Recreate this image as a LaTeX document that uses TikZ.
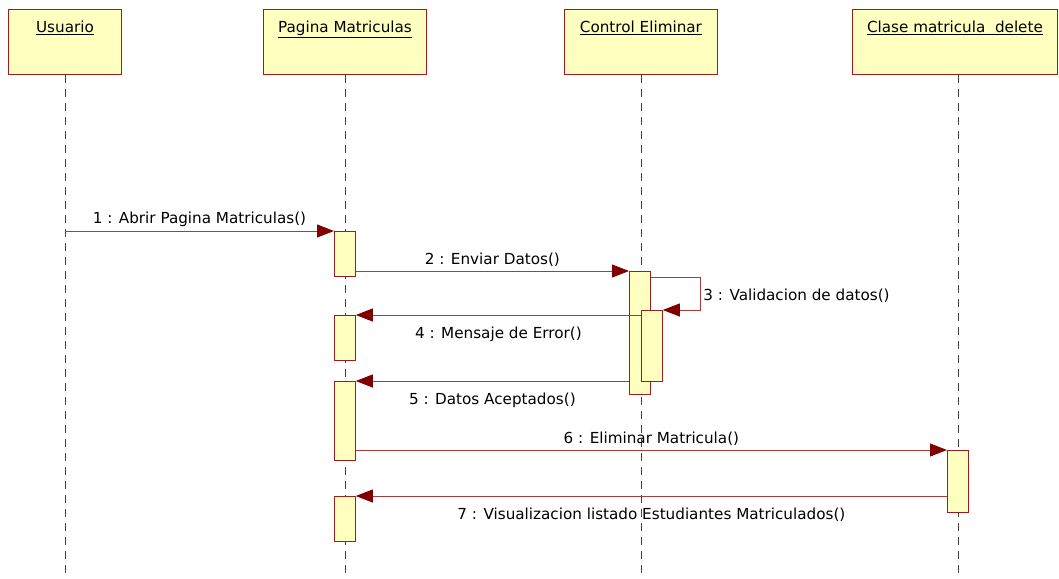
\documentclass[tikz,border=0pt]{standalone}
\usepackage{fontspec}
\setmainfont{DejaVu Sans}
\usetikzlibrary{arrows.meta}
\definecolor{boxfill}{HTML}{FFFFC0}
\definecolor{boxdraw}{HTML}{9A1E1E}
\definecolor{msgline}{HTML}{A83C3C}
\definecolor{headc}{HTML}{800000}
\begin{document}
\begin{tikzpicture}[x=1pt,y=-1pt,
  font=\fontsize{15.2}{17}\selectfont,
  hdr/.style={draw=boxdraw, fill=boxfill, line width=0.9pt, anchor=north west, inner sep=0pt, minimum height=65pt},
  hlbl/.style={anchor=north, yshift=-11pt, inner sep=1pt},
  act/.style={draw=boxdraw, fill=boxfill, line width=0.8pt, anchor=north west, inner sep=0pt, minimum width=21pt},
  life/.style={draw=black!75, line width=0.6pt, dash pattern=on 8pt off 6pt},
  msg/.style={draw=msgline, line width=0.9pt, -{Triangle[length=17pt,width=13pt,fill=headc,color=headc]}},
  mlbl/.style={midway, inner sep=1pt, text=black}
]
\useasboundingbox (0,0) rectangle (1059,578);
% headers
\node[hdr, minimum width=113pt, label={[hlbl]north:\underline{Usuario}}] (usr) at (8,9) {};
\node[hdr, minimum width=163pt, label={[hlbl]north:\underline{Pagina Matriculas}}] (pag) at (263,9) {};
\node[hdr, minimum width=153pt, label={[hlbl]north:\underline{Control Eliminar}}] (ctl) at (564,9) {};
\node[hdr, minimum width=205pt, label={[hlbl]north:\underline{Clase matricula\ \ delete}}] (cls) at (852,9) {};
% lifelines
\coordinate (uend) at (65,578);
\coordinate (pend) at (345,578);
\coordinate (cend) at (641,578);
\coordinate (kend) at (958,578);
\draw[life] (usr.south -| uend) -- (uend);
\draw[life] (pag.south -| pend) -- (pend);
\draw[life] (ctl.south -| cend) -- (cend);
\draw[life] (cls.south -| kend) -- (kend);
% activations
\node[act, minimum height=45pt] (pa1) at (334,231) {};
\node[act, minimum height=45pt] (pa2) at (334,315) {};
\node[act, minimum height=79pt] (pa3) at (334,381) {};
\node[act, minimum height=45pt] (pa4) at (334,496) {};
\node[act, minimum height=123pt] (ca1) at (629,271) {};
\node[act, minimum height=71pt] (ca2) at (641,310) {};
\node[act, minimum height=62pt] (cl1) at (947,450) {};
% messages
\draw[msg] (uend |- pa1.north west) -- node[mlbl, above=3pt] {1 : Abrir Pagina Matriculas()} (pa1.north west);
\draw[msg] (pa1.east |- ca1.north west) -- node[mlbl, above=3pt] {2 : Enviar Datos()} (ca1.north west);
\coordinate (s3) at (700,277);
\draw[msg] (ca1.east |- s3) -- (s3) -- (s3 |- ca2.north east) node[midway, right=2pt, yshift=-2pt, inner sep=1pt, text=black] {3 : Validacion de datos()} -- (ca2.north east);
\draw[msg] (ca2.west |- pa2.north east) -- node[mlbl, below=10pt] {4 : Mensaje de Error()} (pa2.north east);
\draw[msg] (ca1.west |- pa3.north east) -- node[mlbl, below=10pt] {5 : Datos Aceptados()} (pa3.north east);
\draw[msg] (pa3.east |- cl1.north west) -- node[mlbl, above=3pt] {6 : Eliminar Matricula()} (cl1.north west);
\draw[msg] (cl1.west |- pa4.north east) -- node[mlbl, below=10pt] {7 : Visualizacion listado Estudiantes Matriculados()} (pa4.north east);
\end{tikzpicture}
\end{document}
